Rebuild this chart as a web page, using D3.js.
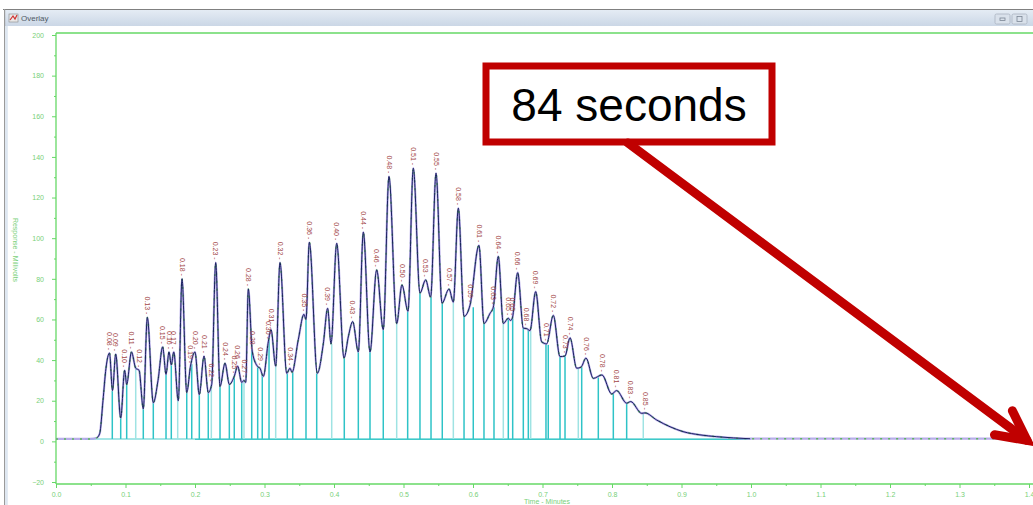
<!DOCTYPE html>
<html><head><meta charset="utf-8">
<script src="https://cdn.jsdelivr.net/npm/d3@7"></script>
<style>html,body{margin:0;padding:0;background:#fff;overflow:hidden}</style>
</head><body><svg id="c" width="1033" height="505" xmlns="http://www.w3.org/2000/svg"></svg>
<script>
// ---------- data ----------
const peakLabels = ["0.08","0.09","0.10","0.11","0.12","0.13","0.15","0.16","0.17","0.18","0.19","0.20","0.21","0.22","0.23","0.24","0.25","0.26","0.27","0.28","0.28","0.29","0.30","0.31","0.32","0.34","0.35","0.36","0.39","0.40","0.43","0.44","0.46","0.48","0.50","0.51","0.53","0.55","0.57","0.58","0.59","0.61","0.63","0.64","0.65","0.65","0.66","0.68","0.69","0.71","0.72","0.73","0.74","0.76","0.78","0.81","0.83","0.85"];
const peakTime = [0.077,0.0859,0.0988,0.1086,0.1195,0.1314,0.1535,0.1626,0.1694,0.1813,0.1935,0.2,0.213,0.224,0.2298,0.2432,0.2565,0.2614,0.2705,0.2767,0.2825,0.2935,0.3055,0.3094,0.3223,0.3367,0.3568,0.3645,0.3909,0.4039,0.4269,0.4422,0.4614,0.4791,0.4978,0.5141,0.5319,0.5468,0.5655,0.5789,0.5957,0.6086,0.6292,0.6364,0.6508,0.6565,0.6643,0.6772,0.6902,0.706,0.7155,0.7324,0.7396,0.7626,0.7856,0.8067,0.8269,0.8475];
const peakResp = [43.5,43,35,44,35,61,46.5,44,44,80,37,44,42,28,88,38.5,32,37,30,75,44,36,49,55,88,36,62.5,98,65.5,97.5,59,103,84.4,130.4,77,134.5,79.5,132,75,114.8,67,96.5,66,91,60.6,60.5,83,55.5,73.7,48,62,42,51,41,32.7,25,19.6,14];
const valleyTime = [0.0813,0.0931,0.1017,0.1256,0.14,0.1583,0.1659,0.176,0.1881,0.2062,0.2191,0.236,0.2494,0.2672,0.273,0.2902,0.2983,0.3161,0.332,0.3396,0.3597,0.376,0.3957,0.4144,0.435,0.4518,0.4709,0.4902,0.5065,0.5237,0.5391,0.5554,0.5717,0.5871,0.6158,0.6436,0.654,0.6724,0.682,0.6988,0.7252,0.7492,0.7731,0.7996,0.8211,0.8427];
const valleyResp = [25,11.5,28,16,19,33,37.6,20,24,23,24,27,28,29,29,36.8,32,37,33.5,34,60,33.5,48,41,44,44,55,58,64,73,71,68,68.5,61.5,58,58,59.5,55.7,54.5,49,41.7,36,31,23.3,18.8,13.8];
const shapeTime = [0,0.049,0.059,0.063,0.0676,0.0719,0.1147,0.1468,0.3486,0.3846,0.4209,0.6245,0.7554,0.8643,0.8835,0.9022,0.9266,0.9507,0.9986,1.2,1.4];
const shapeResp = [1.2,1.2,1.8,4,20,36,36,30,50,48,52,63,36.5,10.5,7.2,4.8,3.2,2.3,1.3,1.3,1.3];
const dropTime = [0.081,0.0931,0.1017,0.1147,0.1256,0.14,0.1583,0.1659,0.1751,0.1881,0.1953,0.2062,0.2191,0.2235,0.236,0.2494,0.2565,0.2672,0.2705,0.2816,0.2902,0.2968,0.3065,0.3161,0.3328,0.3406,0.3597,0.3751,0.3967,0.4148,0.435,0.4518,0.4709,0.4902,0.506,0.5237,0.5396,0.5558,0.5717,0.5871,0.6004,0.6158,0.6302,0.6436,0.6508,0.6571,0.6724,0.6796,0.683,0.705,0.7083,0.7252,0.7324,0.7515,0.7564,0.7803,0.8019,0.8211,0.845];
const dropResp = [25,11.5,28,37,16,19,33,37.6,22,24,38,23,24,28,27,28,32,29,30,45,37,33,50,37,33.5,34,60,33.5,48,41,44,44,55,58,64,73,71,68,68.5,61.5,66,58,66,58,60.6,60.5,55.7,55,54.5,48,47.5,41.7,42,36,36.5,31.5,23.5,18.8,13.9];
const baselineResp = 1.2;
const yTicks = [-20,0,20,40,60,80,100,120,140,160,180,200];
const yMinor = [-10,10,30,50,70,90,110,130,150,170,190];
const xTicks = [0,0.1,0.2,0.3,0.4,0.5,0.6,0.7,0.8,0.9,1.0,1.1,1.2,1.3,1.4];
const xMinor = [0.05,0.15,0.25,0.35,0.45,0.55,0.65,0.75,0.85,0.95,1.05,1.15,1.25,1.35];
const xTitle = "Time - Minutes";
const yTitle = "Response - Millivolts";
const windowTitle = "Overlay";
const calloutText = "84 seconds";

// ---------- drawing ----------
const svg = d3.select("#c");
const FONT = "'Liberation Sans', Arial, sans-serif";
const GREEN = "#66d866", GREENTXT = "#78d078";

// window chrome
const defs = svg.append("defs");
const g1 = defs.append("linearGradient").attr("id","tb").attr("x1",0).attr("x2",0).attr("y1",0).attr("y2",1);
g1.append("stop").attr("offset","0").attr("stop-color","#e6edf5");
g1.append("stop").attr("offset","1").attr("stop-color","#cbd7e6");
svg.append("rect").attr("x",4).attr("y",9).attr("width",1029).attr("height",17).attr("fill","url(#tb)");
svg.append("line").attr("x1",3).attr("x2",1033).attr("y1",9.5).attr("y2",9.5).attr("stroke","#808080");
svg.append("rect").attr("x",4).attr("y",9).attr("width",1.2).attr("height",496).attr("fill","#9a9a9a");
svg.append("rect").attr("x",5.2).attr("y",26).attr("width",2.6).attr("height",479).attr("fill","#dde6f1");
// icon
svg.append("rect").attr("x",9).attr("y",14).attr("width",9).attr("height",8).attr("fill","#e8e8e8").attr("stroke","#888").attr("stroke-width",0.6);
svg.append("path").attr("d","M10,20 L13,16 L15,19 L17,15").attr("fill","none").attr("stroke","#d03030").attr("stroke-width",1.2);
svg.append("text").attr("x",21).attr("y",21).attr("font-family",FONT).attr("font-size",8).attr("fill","#505a66").text(windowTitle);
[995,1012].forEach((bx,i)=>{
  svg.append("rect").attr("x",bx).attr("y",14).attr("width",15).attr("height",10).attr("rx",1.5).attr("fill","#d9e1eb").attr("stroke","#a9b3c0").attr("stroke-width",0.8);
  svg.append("rect").attr("x",bx+5).attr("y",i?16.5:18).attr("width",5).attr("height",i?5:2.5).attr("fill","none").attr("stroke","#7a8594").attr("stroke-width",0.8);
});

// scales
const x = d3.scaleLinear().domain([0,1.4]).range([56,1029]);
const y = d3.scaleLinear().domain([-20,200]).range([482,35]);

// frame
const frame = svg.append("g").attr("stroke",GREEN).attr("stroke-width",1.3);
frame.append("line").attr("x1",56).attr("x2",56).attr("y1",33).attr("y2",484);
frame.append("line").attr("x1",56).attr("x2",1033).attr("y1",33).attr("y2",33);
frame.append("line").attr("x1",56).attr("x2",1033).attr("y1",484).attr("y2",484);

// y axis
const ya = svg.append("g").attr("transform","translate(56,0)")
  .call(d3.axisLeft(y).tickValues(yTicks).tickSize(4).tickSizeOuter(0).tickPadding(8).tickFormat(d3.format("d")));
ya.select(".domain").remove();
ya.selectAll(".tick line").attr("stroke",GREEN);
ya.selectAll(".tick text").attr("fill",GREENTXT).attr("font-family",FONT).attr("font-size",7);
const yam = svg.append("g").attr("transform","translate(56,0)")
  .call(d3.axisLeft(y).tickValues(yMinor).tickSize(2).tickFormat(""));
yam.select(".domain").remove(); yam.selectAll(".tick line").attr("stroke",GREEN);

// x axis
const xa = svg.append("g").attr("transform","translate(0,484)")
  .call(d3.axisBottom(x).tickValues(xTicks).tickSize(4).tickSizeOuter(0).tickPadding(4).tickFormat(d3.format(".1f")));
xa.select(".domain").remove();
xa.selectAll(".tick line").attr("stroke",GREEN);
xa.selectAll(".tick text").attr("fill",GREENTXT).attr("font-family",FONT).attr("font-size",7);
const xam = svg.append("g").attr("transform","translate(0,484)")
  .call(d3.axisBottom(x).tickValues(xMinor).tickSize(2).tickFormat(""));
xam.select(".domain").remove(); xam.selectAll(".tick line").attr("stroke",GREEN);

svg.append("text").attr("x",547).attr("y",504).attr("text-anchor","middle").attr("font-family",FONT).attr("font-size",7).attr("fill",GREENTXT).text(xTitle);
svg.append("text").attr("transform","translate(13,250) rotate(90)").attr("text-anchor","middle").attr("font-family",FONT).attr("font-size",7).attr("fill",GREENTXT).text(yTitle);

// trace points
const pts = [];
peakTime.forEach((t,i)=>pts.push([t,peakResp[i]]));
valleyTime.forEach((t,i)=>pts.push([t,valleyResp[i]]));
shapeTime.forEach((t,i)=>pts.push([t,shapeResp[i]]));
pts.sort((a,b)=>a[0]-b[0]);

// integration baseline (cyan)
svg.append("line").attr("x1",x(0.042)).attr("x2",x(1.0)).attr("y1",y(baselineResp)).attr("y2",y(baselineResp)).attr("stroke","#a6e6e6").attr("stroke-width",2);
svg.append("line").attr("x1",x(0.2)).attr("x2",x(0.995)).attr("y1",y(baselineResp)+0.5).attr("y2",y(baselineResp)+0.5).attr("stroke","#3fc9c9").attr("stroke-width",1.2);

// drop lines
svg.append("g").selectAll("line").data(dropTime).join("line")
  .attr("x1",d=>x(d)).attr("x2",d=>x(d))
  .attr("y1",y(baselineResp)).attr("y2",(d,i)=>y(dropResp[i]))
  .attr("stroke",(d,i)=> i%5===3 ? "#9fe3e3" : "#2ec3c7").attr("stroke-width",1.5);

// trace
const line = d3.line().x(d=>x(d[0])).y(d=>y(d[1])).curve(d3.curveMonotoneX);
svg.append("path").datum(pts).attr("d",line).attr("fill","none").attr("stroke","#ab9fe6").attr("stroke-width",2.2).attr("stroke-opacity",0.85).attr("stroke-linejoin","round");
svg.append("path").datum(pts).attr("d",line).attr("fill","none").attr("stroke","#5cb85c").attr("stroke-width",1.4).attr("stroke-dasharray","2,6");
svg.append("path").datum(pts.filter(p=>p[0]>=0.055 && p[0]<=1.0)).attr("d",line).attr("fill","none").attr("stroke","#1b2160").attr("stroke-width",1);

// peak labels
svg.append("g").selectAll("text").data(peakTime).join("text")
  .attr("transform",(d,i)=>`translate(${x(d)},${y(peakResp[i])-3}) rotate(90)`)
  .attr("text-anchor","end").attr("dy","0.35em")
  .attr("font-family",FONT).attr("font-size",7).attr("fill","#a24646")
  .text((d,i)=>peakLabels[i]+" -");

// callout
const RED = "#c00000";
svg.append("rect").attr("x",486).attr("y",66).attr("width",286).attr("height",76).attr("fill","#fff").attr("stroke",RED).attr("stroke-width",7);
svg.append("text").attr("x",629).attr("y",121).attr("text-anchor","middle").attr("font-family",FONT).attr("font-size",46).attr("fill","#000").text(calloutText);
const tip = [x(1.4)-2, y(0)-1];
const start = [628,143];
const ang = Math.atan2(start[1]-tip[1], start[0]-tip[0]);
const wl = 33, wa = 27*Math.PI/180;
const w1 = [tip[0]+wl*Math.cos(ang+wa), tip[1]+wl*Math.sin(ang+wa)];
const w2 = [tip[0]+wl*Math.cos(ang-wa), tip[1]+wl*Math.sin(ang-wa)];
svg.append("line").attr("x1",start[0]).attr("y1",start[1]).attr("x2",tip[0]).attr("y2",tip[1]).attr("stroke",RED).attr("stroke-width",9).attr("stroke-linecap","round");
svg.append("path").attr("d",`M${w1}L${tip}L${w2}`).attr("fill","none").attr("stroke",RED).attr("stroke-width",9).attr("stroke-linecap","round").attr("stroke-linejoin","miter");
</script></body></html>
